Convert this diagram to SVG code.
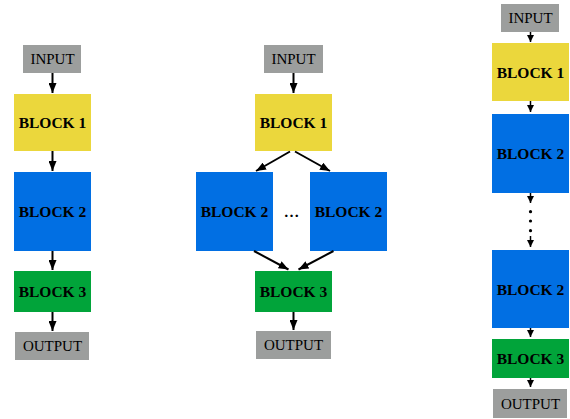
<svg xmlns="http://www.w3.org/2000/svg" width="570" height="419" viewBox="0 0 570 419">
<style>
.io{fill:#9c9e9d}
.y{fill:#ebd73c}
.b{fill:#016fe3}
.g{fill:#01a43a}
.t{font-family:'Liberation Serif',serif;font-size:15px;text-anchor:middle;fill:#000}
.bt{font-family:'Liberation Serif',serif;font-size:15.5px;font-weight:700;text-anchor:middle;fill:#000}
.c{stroke:#000;stroke-width:2;fill:none}
.cs{stroke:#000;stroke-width:1.5;fill:none}
</style>
<defs>
<marker id="ah" markerUnits="userSpaceOnUse" markerWidth="10" markerHeight="8" refX="10" refY="4" orient="auto">
<path d="M0,0 L10,4 L0,8 z" fill="#000"/>
</marker>
<marker id="as" markerUnits="userSpaceOnUse" markerWidth="7" markerHeight="7" refX="7" refY="3.5" orient="auto">
<path d="M0,0 L7,3.5 L0,7 z" fill="#000"/>
</marker>
</defs>
<rect width="570" height="419" fill="#fff"/>

<!-- Left column -->
<g id="l-input"><rect class="io" x="23" y="45" width="58" height="28"/><text class="t" x="52.5" y="64">INPUT</text></g>
<g id="l-block1"><rect class="y" x="14" y="94" width="77" height="57"/><text class="bt" x="52.5" y="128">BLOCK 1</text></g>
<g id="l-block2"><rect class="b" x="14" y="172" width="77" height="79"/><text class="bt" x="52.5" y="217">BLOCK 2</text></g>
<g id="l-block3"><rect class="g" x="14" y="271" width="77" height="41"/><text class="bt" x="52.5" y="297">BLOCK 3</text></g>
<g id="l-output"><rect class="io" x="15" y="332" width="74" height="28"/><text class="t" x="52.5" y="351">OUTPUT</text></g>

<!-- Middle column -->
<g id="m-input"><rect class="io" x="264" y="45" width="59" height="28"/><text class="t" x="293.5" y="64">INPUT</text></g>
<g id="m-block1"><rect class="y" x="255" y="94" width="77" height="57"/><text class="bt" x="293.5" y="128">BLOCK 1</text></g>
<g id="m-block2a"><rect class="b" x="196" y="172" width="77" height="79"/><text class="bt" x="234.5" y="217">BLOCK 2</text></g>
<g id="m-dots"><text class="bt" x="291.5" y="217">…</text></g>
<g id="m-block2b"><rect class="b" x="310" y="172" width="77" height="79"/><text class="bt" x="348.5" y="217">BLOCK 2</text></g>
<g id="m-block3"><rect class="g" x="255" y="271" width="77" height="41"/><text class="bt" x="293.5" y="297">BLOCK 3</text></g>
<g id="m-output"><rect class="io" x="256" y="331" width="75" height="28"/><text class="t" x="293.5" y="350">OUTPUT</text></g>

<!-- Right column -->
<g id="r-input"><rect class="io" x="501" y="4" width="58" height="28"/><text class="t" x="530.5" y="23">INPUT</text></g>
<g id="r-block1"><rect class="y" x="492" y="43" width="77" height="58"/><text class="bt" x="530.5" y="77.5">BLOCK 1</text></g>
<g id="r-block2a"><rect class="b" x="492" y="114" width="77" height="79"/><text class="bt" x="530.5" y="159">BLOCK 2</text></g>
<g id="r-dots"><circle cx="530.5" cy="211.7" r="1.6" fill="#000"/><circle cx="530.5" cy="221" r="1.6" fill="#000"/><circle cx="530.5" cy="230.7" r="1.6" fill="#000"/></g>
<g id="r-block2b"><rect class="b" x="492" y="250" width="77" height="78"/><text class="bt" x="530.5" y="294.5">BLOCK 2</text></g>
<g id="r-block3"><rect class="g" x="492" y="339" width="77" height="39"/><text class="bt" x="530.5" y="364">BLOCK 3</text></g>
<g id="r-output"><rect class="io" x="493" y="389" width="74" height="29"/><text class="t" x="530.5" y="408.5">OUTPUT</text></g>

<g id="connectors">
<line class="c" x1="52.5" y1="73" x2="52.5" y2="93" marker-end="url(#ah)"/>
<line class="c" x1="52.5" y1="151" x2="52.5" y2="171" marker-end="url(#ah)"/>
<line class="c" x1="52.5" y1="251" x2="52.5" y2="270" marker-end="url(#ah)"/>
<line class="c" x1="52.5" y1="312" x2="52.5" y2="331" marker-end="url(#ah)"/>

<line class="c" x1="293.5" y1="73" x2="293.5" y2="93" marker-end="url(#ah)"/>
<line class="c" x1="290" y1="151.5" x2="256" y2="171" marker-end="url(#ah)"/>
<line class="c" x1="295" y1="151.5" x2="330" y2="171" marker-end="url(#ah)"/>
<line class="c" x1="254" y1="251" x2="288.5" y2="269.5" marker-end="url(#ah)"/>
<line class="c" x1="333.5" y1="251" x2="298.5" y2="269.5" marker-end="url(#ah)"/>
<line class="c" x1="293.5" y1="312" x2="293.5" y2="330" marker-end="url(#ah)"/>

<line class="cs" x1="530.5" y1="32" x2="530.5" y2="42" marker-end="url(#as)"/>
<line class="cs" x1="530.5" y1="101" x2="530.5" y2="112" marker-end="url(#as)"/>
<line class="cs" x1="530.5" y1="193" x2="530.5" y2="203" marker-end="url(#as)"/>
<line class="cs" x1="530.5" y1="236" x2="530.5" y2="247" marker-end="url(#as)"/>
<line class="cs" x1="530.5" y1="328" x2="530.5" y2="337" marker-end="url(#as)"/>
<line class="cs" x1="530.5" y1="378" x2="530.5" y2="387" marker-end="url(#as)"/>
</g>
</svg>
